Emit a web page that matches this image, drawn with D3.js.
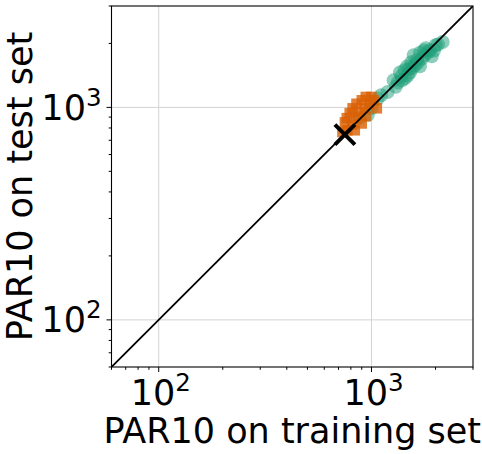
<!DOCTYPE html>
<html>
<head>
<meta charset="utf-8">
<script src="https://cdn.jsdelivr.net/npm/d3@7"></script>
<style>
  body { margin: 0; background: #fff; }
  text { font-family: "DejaVu Sans", sans-serif; fill: #000; }
</style>
</head>
<body>
<div id="chart"></div>
<script>
// values (PAR10 train, PAR10 test)
const greenTrain = [2160, 2000, 1880, 1780, 1690, 1630, 1540, 1510, 1430, 1480, 1380, 1330, 1300, 1190, 1110, 1070, 1000, 960, 880, 1800, 1580, 1920, 1690, 1360, 1270,
                    1601, 1654, 1727, 1843, 1517, 1437, 1550, 1765, 1967, 2053, 1391, 1469];
const greenTest  = [2030, 1960, 1857, 1760, 1810, 1667, 1630, 1530, 1496, 1410, 1400, 1310, 1250, 1180, 1140, 1100, 990, 920, 890, 1900, 1760, 1740, 1560, 1460, 1340,
                    1575, 1627, 1699, 1814, 1460, 1369, 1525, 1853, 1853, 1978, 1340, 1559];

const orangeTrain = [1000, 940, 900, 850, 815, 790, 765, 750, 980, 1030, 1060, 930, 880, 850, 810, 940, 900, 835, 770, 730];
const orangeTest  = [1120, 1120, 1080, 1040, 990, 940, 890, 850, 1030, 1080, 990, 990, 950, 890, 830, 910, 840, 780, 780, 765];

const bestPoint = [750, 745];

const xTicks = [100, 1000];
const yTicks = [100, 1000];
const tickExp = {100: "2", 1000: "3"};

const W = 482, H = 454;
const pLeft = 111.5, pRight = 473, pTop = 6, pBottom = 367;
const lo = 60, hi = 3000;
const fs = 35;

const svg = d3.select("#chart").append("svg")
  .attr("width", W).attr("height", H);

const x = d3.scaleLog().domain([lo, hi]).range([pLeft, pRight]);
const y = d3.scaleLog().domain([lo, hi]).range([pBottom, pTop]);

// minor ticks inside the range
let minor = [];
for (let dec of [10, 100, 1000]) {
  for (let m = 2; m <= 9; m++) {
    let v = dec * m;
    if (v >= lo && v <= hi) minor.push(v);
  }
}

// grid
svg.append("g").selectAll("line").data(xTicks).enter().append("line")
  .attr("x1", d => x(d)).attr("x2", d => x(d))
  .attr("y1", pTop).attr("y2", pBottom)
  .attr("stroke", "#d3d3d3").attr("stroke-width", 1);
svg.append("g").selectAll("line").data(yTicks).enter().append("line")
  .attr("y1", d => y(d)).attr("y2", d => y(d))
  .attr("x1", pLeft).attr("x2", pRight)
  .attr("stroke", "#d3d3d3").attr("stroke-width", 1);

// scatter
svg.append("clipPath").attr("id", "clip")
  .append("rect").attr("x", pLeft).attr("y", pTop)
  .attr("width", pRight - pLeft).attr("height", pBottom - pTop);

const plot = svg.append("g").attr("clip-path", "url(#clip)");

plot.selectAll("circle").data(d3.zip(greenTrain, greenTest)).enter().append("circle")
  .attr("cx", d => x(d[0])).attr("cy", d => y(d[1]))
  .attr("r", 7)
  .attr("fill", "#1b9e77").attr("fill-opacity", 0.5);

const sq = 10.5;
plot.selectAll("rect.sq").data(d3.zip(orangeTrain, orangeTest)).enter().append("rect")
  .attr("class", "sq")
  .attr("x", d => x(d[0]) - sq / 2).attr("y", d => y(d[1]) - sq / 2)
  .attr("width", sq).attr("height", sq)
  .attr("fill", "#d95f02").attr("fill-opacity", 0.8);

// diagonal y = x
plot.append("line")
  .attr("x1", x(lo)).attr("y1", y(lo))
  .attr("x2", x(hi)).attr("y2", y(hi))
  .attr("stroke", "#000").attr("stroke-width", 1.8);

// best point marker
const bx = x(bestPoint[0]), by = y(bestPoint[1]), a = 10;
plot.append("path")
  .attr("d", `M${bx - a},${by - a}L${bx + a},${by + a}M${bx - a},${by + a}L${bx + a},${by - a}`)
  .attr("stroke", "#000").attr("stroke-width", 4).attr("fill", "none");

// frame
svg.append("rect")
  .attr("x", pLeft).attr("y", pTop)
  .attr("width", pRight - pLeft).attr("height", pBottom - pTop)
  .attr("fill", "none").attr("stroke", "#000").attr("stroke-width", 1.1);

// ticks
const ticks = svg.append("g").attr("stroke", "#000").attr("stroke-width", 1);
ticks.selectAll("line.xM").data(xTicks).enter().append("line")
  .attr("x1", d => x(d)).attr("x2", d => x(d)).attr("y1", pBottom).attr("y2", pBottom + 5);
ticks.selectAll("line.xm").data(minor).enter().append("line")
  .attr("x1", d => x(d)).attr("x2", d => x(d)).attr("y1", pBottom).attr("y2", pBottom + 2.8);
ticks.selectAll("line.yM").data(yTicks).enter().append("line")
  .attr("y1", d => y(d)).attr("y2", d => y(d)).attr("x1", pLeft).attr("x2", pLeft - 5);
ticks.selectAll("line.ym").data(minor).enter().append("line")
  .attr("y1", d => y(d)).attr("y2", d => y(d)).attr("x1", pLeft).attr("x2", pLeft - 2.8);

// tick labels
function powLabel(sel) {
  sel.append("tspan").text("10");
  sel.append("tspan").attr("dy", -14).attr("font-size", fs * 0.7).text(d => tickExp[d]);
}
svg.append("g").selectAll("text").data(xTicks).enter().append("text")
  .attr("x", d => x(d) + 2).attr("y", 405)
  .attr("text-anchor", "middle").attr("font-size", fs)
  .call(powLabel);
svg.append("g").selectAll("text").data(yTicks).enter().append("text")
  .attr("x", pLeft - 10).attr("y", d => y(d) + 12.5)
  .attr("text-anchor", "end").attr("font-size", fs)
  .call(powLabel);

// axis labels
svg.append("text")
  .attr("x", (pLeft + pRight) / 2).attr("y", 443)
  .attr("text-anchor", "middle").attr("font-size", fs)
  .text("PAR10 on training set");
svg.append("text")
  .attr("transform", `translate(31.5,${(pTop + pBottom) / 2}) rotate(-90)`)
  .attr("text-anchor", "middle").attr("font-size", fs)
  .text("PAR10 on test set");
</script>
</body>
</html>
